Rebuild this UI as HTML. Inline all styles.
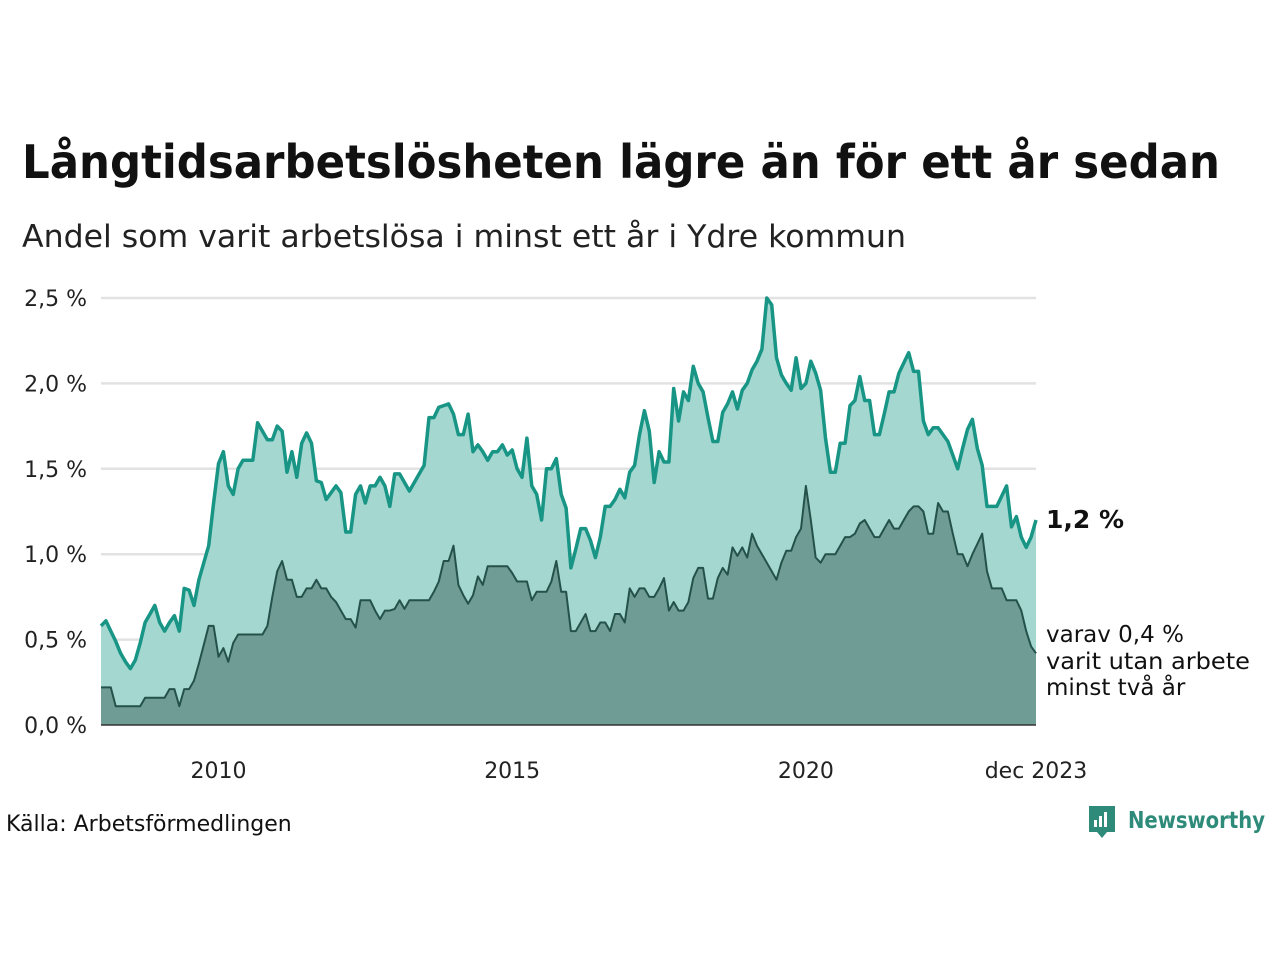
<!DOCTYPE html>
<html><head><meta charset="utf-8"><style>
body{margin:0;background:#fff;width:1280px;height:960px;overflow:hidden;font-family:"Liberation Sans","DejaVu Sans",sans-serif;}
svg text{font-family:"DejaVu Sans","Liberation Sans",sans-serif;}
</style></head><body>
<svg width="1280" height="960">
<text x="22" y="178" font-size="46" font-weight="bold" fill="#111" textLength="1198" lengthAdjust="spacingAndGlyphs">Långtidsarbetslösheten lägre än för ett år sedan</text>
<text x="22" y="247" font-size="31" fill="#222" textLength="884" lengthAdjust="spacingAndGlyphs">Andel som varit arbetslösa i minst ett år i Ydre kommun</text>
<g id="grid"></g><g id="areas"></g><g id="axes"></g>
<text x="1046" y="528" font-size="25" font-weight="bold" fill="#111">1,2 %</text>
<text font-size="23" fill="#111"><tspan x="1046" y="642">varav 0,4 %</tspan><tspan x="1046" y="669" textLength="204" lengthAdjust="spacingAndGlyphs">varit utan arbete</tspan><tspan x="1046" y="695">minst två år</tspan></text>
<text x="6" y="831" font-size="22" fill="#111">Källa: Arbetsförmedlingen</text>
<g>
<path d="M1089 806h26v26h-8l-5 6-5-6h-8z" fill="#2e8b7a"/>
<rect x="1094" y="820" width="3" height="7" fill="#fff"/><rect x="1099" y="816" width="3" height="11" fill="#fff"/><rect x="1104" y="812" width="3" height="15" fill="#fff"/>
<text x="1128" y="828" font-size="23" font-weight="bold" fill="#2e8b7a" textLength="137" lengthAdjust="spacingAndGlyphs">Newsworthy</text></g>
</svg>
<script>
const yTicks=[0,0.5,1,1.5,2,2.5];
const yTickLabels=["0,0 %","0,5 %","1,0 %","1,5 %","2,0 %","2,5 %"];
const xTicks=[2010,2015,2020,2023.917];
const xTickLabels=["2010","2015","2020","dec 2023"];
const total=[0.58,0.61,0.55,0.49,0.42,0.37,0.33,0.38,0.48,0.6,
0.65,0.7,0.6,0.55,0.6,0.64,0.55,0.8,0.79,0.7,0.85,0.95,
1.05,1.3,1.53,1.6,1.4,1.35,1.5,1.55,1.55,1.55,1.77,1.72,
1.67,1.67,1.75,1.72,1.48,1.6,1.45,1.65,1.71,1.65,1.43,1.42,
1.32,1.36,1.4,1.36,1.13,1.13,1.35,1.4,1.3,1.4,1.4,1.45,
1.4,1.28,1.47,1.47,1.42,1.37,1.42,1.47,1.52,1.8,1.8,1.86,
1.87,1.88,1.82,1.7,1.7,1.82,1.6,1.64,1.6,1.55,1.6,1.6,
1.64,1.58,1.61,1.5,1.45,1.68,1.4,1.35,1.2,1.5,1.5,1.56,
1.35,1.27,0.92,1.03,1.15,1.15,1.08,0.98,1.1,1.28,1.28,1.32,
1.38,1.33,1.48,1.52,1.7,1.84,1.72,1.42,1.6,1.54,1.54,1.97,
1.78,1.95,1.9,2.1,2.0,1.95,1.8,1.66,1.66,1.83,1.88,1.95,
1.85,1.96,2.0,2.08,2.13,2.2,2.5,2.46,2.15,2.05,2.0,1.96,
2.15,1.97,2.0,2.13,2.06,1.96,1.68,1.48,1.48,1.65,1.65,1.87,
1.9,2.04,1.9,1.9,1.7,1.7,1.82,1.95,1.95,2.06,2.12,2.18,
2.07,2.07,1.78,1.7,1.74,1.74,1.7,1.66,1.58,1.5,1.62,1.73,1.79,
1.62,1.52,1.28,1.28,1.28,1.34,1.4,1.16,1.22,1.1,1.04,1.1,1.2];
const twoYear=[0.22,0.22,0.22,0.11,0.11,0.11,0.11,0.11,0.11,0.16,0.16,
0.16,0.16,0.16,0.21,0.21,0.11,0.21,0.21,0.26,0.36,0.47,0.58,
0.58,0.4,0.45,0.37,0.48,0.53,0.53,0.53,0.53,0.53,0.53,0.58,
0.75,0.9,0.96,0.85,0.85,0.75,0.75,0.8,0.8,0.85,0.8,0.8,
0.75,0.72,0.67,0.62,0.62,0.57,0.73,0.73,0.73,0.67,0.62,0.67,
0.67,0.68,0.73,0.68,0.73,0.73,0.73,0.73,0.73,0.78,0.84,0.96,
0.96,1.05,0.82,0.76,0.71,0.76,0.87,0.82,0.93,0.93,0.93,0.93,
0.93,0.89,0.84,0.84,0.84,0.73,0.78,0.78,0.78,0.84,0.96,0.78,
0.78,0.55,0.55,0.6,0.65,0.55,0.55,0.6,0.6,0.55,0.65,0.65,
0.6,0.8,0.75,0.8,0.8,0.75,0.75,0.8,0.86,0.67,0.72,0.67,
0.67,0.72,0.86,0.92,0.92,0.74,0.74,0.86,0.92,0.88,1.04,0.99,
1.04,0.98,1.12,1.05,1.0,0.95,0.9,0.85,0.95,1.02,1.02,1.1,
1.15,1.4,1.2,0.98,0.95,1.0,1.0,1.0,1.05,1.1,1.1,1.12,
1.18,1.2,1.15,1.1,1.1,1.15,1.2,1.15,1.15,1.2,1.25,1.28,
1.28,1.25,1.12,1.12,1.3,1.25,1.25,1.12,1.0,1.0,0.93,1.0,
1.06,1.12,0.9,0.8,0.8,0.8,0.73,0.73,0.73,0.67,0.55,0.46,0.42];
const startYear=2008;
const NS="http://www.w3.org/2000/svg";
const x0=101,x1=1036;
const xs=t=>x0+(t-startYear)*(x1-x0)/(2023.917-startYear);
const ys=v=>725-v*170.8;
function mk(tag,attrs,parent){const e=document.createElementNS(NS,tag);for(const k in attrs)e.setAttribute(k,attrs[k]);parent.appendChild(e);return e;}
const grid=document.getElementById('grid'),areas=document.getElementById('areas'),axes=document.getElementById('axes');
yTicks.forEach((v,i)=>{
 if(v>0){const l=mk('line',{x1:x0,x2:x1,y1:ys(v),y2:ys(v),stroke:'#e2e2e2','stroke-width':2.5},grid);
 
 }
 const t=mk('text',{x:87,y:ys(v)+8,'text-anchor':'end','font-size':22,fill:'#222'},axes);t.textContent=yTickLabels[i];
 
 
});
xTicks.forEach((v,i)=>{const t=mk('text',{x:xs(v),y:778,'text-anchor':'middle','font-size':22,fill:'#222'},axes);t.textContent=xTickLabels[i];
 
 });
function pts(arr){const n=arr.length;return arr.map((v,i)=>(x0+i*(x1-x0)/(n-1)).toFixed(1)+','+ys(v).toFixed(1)).join(' ');}
function area(arr,fill,stroke,w,name){
 const a=mk('polygon',{points:pts(arr)+' '+x1+','+ys(0)+' '+x0+','+ys(0),fill:fill},areas);
 
 
 const l=mk('polyline',{points:pts(arr),fill:'none',stroke:stroke,'stroke-width':w,'stroke-linejoin':'round'},areas);
 
 
}
area(total,'#a4d7d0','#189585',3.5,'total');
area(twoYear,'#6f9d96','#24524b',2,'two-year');
const ax=mk('line',{x1:x0,x2:x1,y1:ys(0),y2:ys(0),stroke:'#333','stroke-width':1.5},axes);


</script>
</body></html>
